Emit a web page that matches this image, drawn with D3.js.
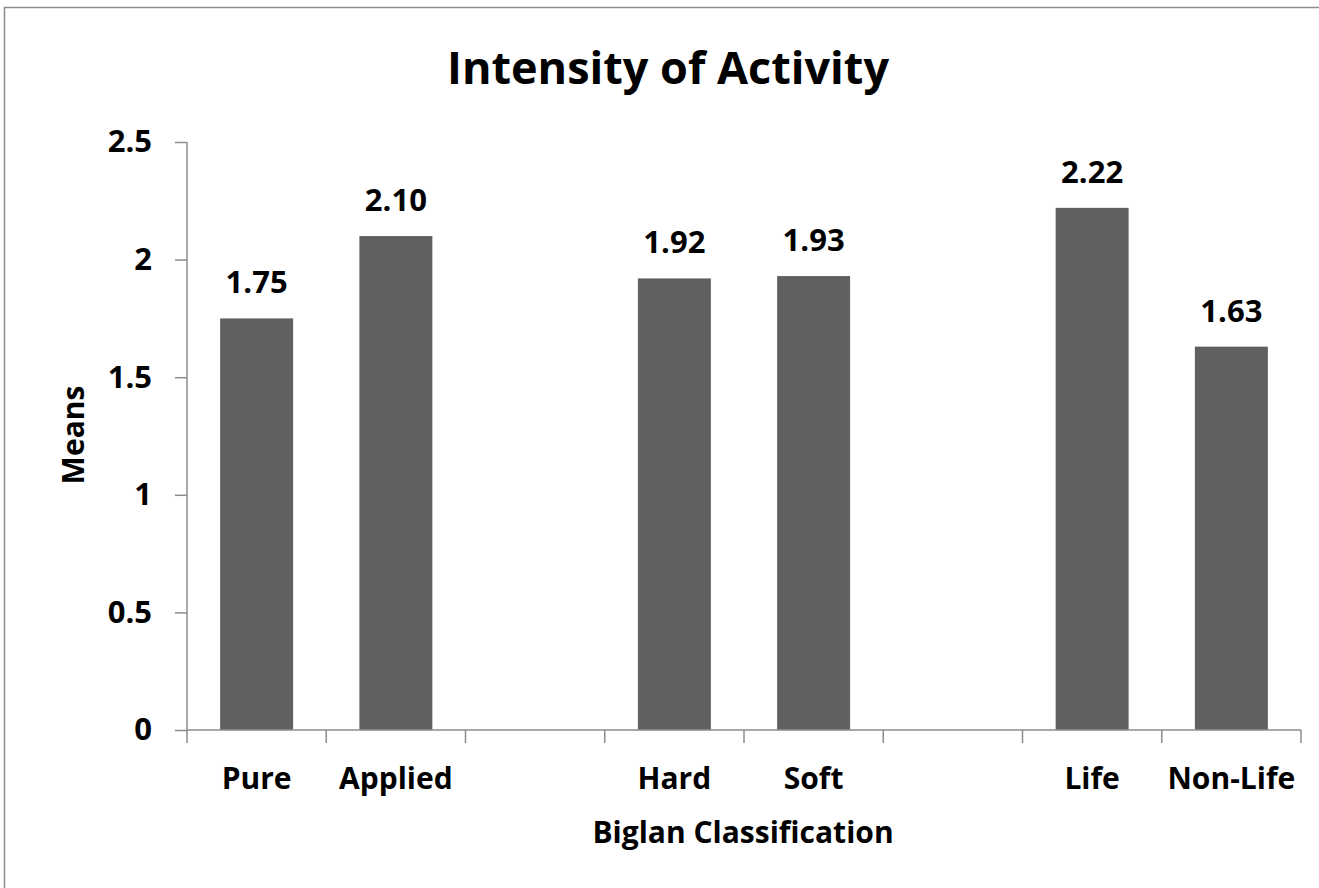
<!DOCTYPE html>
<html>
<head>
<meta charset="utf-8">
<script src="https://cdn.jsdelivr.net/npm/d3@7"></script>
<style>
  body { margin: 0; background: #fff; }
  text { font-family: "Open Sans", Lato, sans-serif; font-weight: bold; fill: #000; }
</style>
</head>
<body>
<div id="chart"></div>
<script>
// chart data (blank slots are the gaps between groups)
const categories = ["Pure", "Applied", "", "Hard", "Soft", "", "Life", "Non-Life"];
const means = [1.75, 2.10, null, 1.92, 1.93, null, 2.22, 1.63];
const yTicks = [0, 0.5, 1, 1.5, 2, 2.5];

const W = 1319, H = 888;
const margin = { top: 142, right: 18, bottom: 158, left: 187 };
const width = W - margin.left - margin.right;
const height = H - margin.top - margin.bottom;
const axisColor = "#8c8c8c";

const svg = d3.select("#chart").append("svg")
    .attr("width", W)
    .attr("height", H);

// outer chart border
svg.append("rect")
    .attr("x", 4.5).attr("y", 7.5)
    .attr("width", W + 10).attr("height", H + 10)
    .attr("fill", "none")
    .attr("stroke", axisColor)
    .attr("stroke-width", 1.5);

const g = svg.append("g")
    .attr("transform", `translate(${margin.left},${margin.top})`);

const x = d3.scaleBand()
    .domain(d3.range(categories.length))
    .range([0, width])
    .paddingInner(0.476)
    .paddingOuter(0.238);

const slot = d3.scaleBand()
    .domain(d3.range(categories.length))
    .range([0, width]);

const y = d3.scaleLinear().domain([0, 2.5]).range([height, 0]);

// y axis
const yAxis = g.append("g")
    .call(d3.axisLeft(y).tickValues(yTicks).tickSize(12).tickPadding(23)
        .tickFormat(d => d3.format("")(d)));
yAxis.select(".domain").attr("stroke", axisColor).attr("stroke-width", 1.5)
    .attr("d", `M0,0V${height}`);
yAxis.selectAll(".tick line").attr("stroke", axisColor).attr("stroke-width", 1.5);
yAxis.selectAll(".tick text").style("font-size", "31px").attr("font-family", null);

// bars
const data = means.map((v, i) => ({ i, v })).filter(d => d.v != null);

g.selectAll(".bar")
    .data(data)
    .enter().append("rect")
    .attr("class", "bar")
    .attr("x", d => x(d.i))
    .attr("width", x.bandwidth())
    .attr("y", d => y(d.v))
    .attr("height", d => height - y(d.v))
    .attr("fill", "#606060");

g.selectAll(".val")
    .data(data)
    .enter().append("text")
    .attr("class", "val")
    .attr("x", d => x(d.i) + x.bandwidth() / 2)
    .attr("y", d => y(d.v) - 25)
    .attr("text-anchor", "middle")
    .style("font-size", "31px")
    .text(d => d.v.toFixed(2));

// x axis: ticks at slot boundaries
const xAxis = g.append("g").attr("transform", `translate(0,${height})`);
xAxis.append("line")
    .attr("x1", 0).attr("x2", width)
    .attr("stroke", axisColor).attr("stroke-width", 1.5);
xAxis.selectAll(".xtick")
    .data(d3.range(categories.length + 1))
    .enter().append("line")
    .attr("x1", i => i < categories.length ? slot(i) : width)
    .attr("x2", i => i < categories.length ? slot(i) : width)
    .attr("y1", 0).attr("y2", 13)
    .attr("stroke", axisColor).attr("stroke-width", 1.5);
xAxis.selectAll(".xlab")
    .data(categories)
    .enter().append("text")
    .attr("x", (d, i) => slot(i) + slot.bandwidth() / 2)
    .attr("y", 59)
    .attr("text-anchor", "middle")
    .style("font-size", "30px")
    .text(d => d);

// titles
svg.append("text")
    .attr("x", 668).attr("y", 84)
    .attr("text-anchor", "middle")
    .style("font-size", "45px")
    .text("Intensity of Activity");

svg.append("text")
    .attr("x", 743).attr("y", 843)
    .attr("text-anchor", "middle")
    .style("font-size", "30px")
    .text("Biglan Classification");

svg.append("text")
    .attr("transform", `translate(84,${margin.top + height / 2 - 1}) rotate(-90)`)
    .attr("text-anchor", "middle")
    .style("font-size", "30px")
    .text("Means");
</script>
</body>
</html>
